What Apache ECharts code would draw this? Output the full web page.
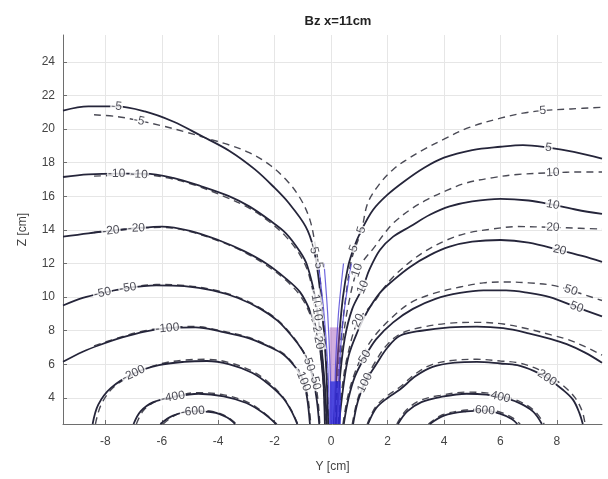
<!DOCTYPE html>
<html>
<head>
<meta charset="utf-8">
<script src="https://cdn.jsdelivr.net/npm/echarts@6/dist/echarts.min.js"></script>
<style>
  html, body { margin: 0; padding: 0; background: #fff; }
  #c { width: 608px; height: 479px; }
</style>
</head>
<body>
<div id="c"></div>
<script>
// Axis ticks
const xTicks = [-8, -6, -4, -2, 0, 2, 4, 6, 8];
const yTicks = [4, 6, 8, 10, 12, 14, 16, 18, 20, 22, 24];

// Contour lines of Bz, points are [Y, Z] in cm.
// s* = solid set, d* = dashed set; N = negative level.
const sN5 = [[-9.5,21.1],[-8.6,21.35],[-7.6,21.35],[-6.6,21.05],[-5.6,20.45],[-4.6,19.6],[-3.6,18.7],[-2.7,17.6],[-2.0,16.5],[-1.5,15.6],[-0.9,14.2],[-0.62,12.9],[-0.45,11.2],[-0.3,8.8],[-0.18,6.0],[-0.1,2.45]];
const dN5 = [[-8.4,20.85],[-7.6,20.75],[-6.8,20.5],[-6.0,20.2],[-5.2,19.85],[-4.4,19.45],[-3.6,19.05],[-2.9,18.6],[-2.2,17.9],[-1.6,17.0],[-1.1,15.9],[-0.75,14.6],[-0.55,13.0],[-0.45,12.0],[-0.33,10.0],[-0.22,7.5],[-0.14,5.0],[-0.09,2.45]];
const sN10 = [[-9.5,17.15],[-8.6,17.3],[-7.6,17.35],[-6.6,17.35],[-5.6,17.1],[-4.6,16.6],[-3.6,16.0],[-2.9,15.4],[-2.2,14.6],[-1.6,13.8],[-1.1,12.7],[-0.85,11.9],[-0.55,9.9],[-0.42,8.3],[-0.3,6.3],[-0.2,4.2],[-0.16,2.45]];
const dN10 = [[-8.4,17.2],[-7.6,17.25],[-6.8,17.3],[-5.8,17.1],[-4.8,16.65],[-3.8,16.0],[-2.9,15.3],[-2.2,14.5],[-1.6,13.6],[-1.1,12.5],[-0.8,11.4],[-0.5,9.1],[-0.37,7.5],[-0.27,5.5],[-0.19,3.7],[-0.15,2.45]];
const sN20 = [[-9.5,13.6],[-8.6,13.8],[-7.8,13.95],[-6.9,14.1],[-6.0,14.2],[-5.0,13.95],[-4.0,13.4],[-3.1,12.75],[-2.3,12.0],[-1.6,11.1],[-1.1,10.3],[-0.75,9.2],[-0.5,8.0],[-0.36,6.5],[-0.27,4.8],[-0.22,2.45]];
const dN20 = [[-8.4,13.85],[-7.6,14.0],[-6.9,14.1],[-6.0,14.15],[-5.0,13.9],[-4.0,13.35],[-3.1,12.7],[-2.3,11.9],[-1.6,11.0],[-1.1,10.1],[-0.75,9.0],[-0.45,7.4],[-0.32,5.8],[-0.25,4.2],[-0.2,2.45]];
const sN50 = [[-9.5,9.5],[-8.8,9.95],[-8.1,10.25],[-7.2,10.55],[-6.2,10.7],[-5.2,10.65],[-4.2,10.4],[-3.3,9.95],[-2.5,9.3],[-1.9,8.6],[-1.4,7.7],[-1.0,6.8],[-0.8,6.1],[-0.62,5.0],[-0.5,3.8],[-0.42,2.45]];
const dN50 = [[-8.4,10.15],[-7.8,10.35],[-7.2,10.55],[-6.2,10.75],[-5.2,10.7],[-4.2,10.45],[-3.3,10.0],[-2.5,9.35],[-1.9,8.65],[-1.4,7.75],[-1.0,6.8],[-0.75,5.8],[-0.57,5.0],[-0.46,3.8],[-0.4,2.45]];
const sN100 = [[-9.5,6.15],[-8.8,6.75],[-8.2,7.15],[-7.4,7.6],[-6.6,7.95],[-5.8,8.15],[-4.8,8.2],[-3.9,7.95],[-2.9,7.55],[-2.2,7.05],[-1.7,6.6],[-1.3,5.9],[-1.0,5.1],[-0.85,4.0],[-0.75,2.45]];
const dN100 = [[-8.4,7.1],[-7.4,7.65],[-6.6,8.0],[-5.8,8.2],[-4.8,8.25],[-3.9,8.0],[-2.9,7.6],[-2.2,7.1],[-1.7,6.65],[-1.3,5.95],[-1.0,5.1],[-0.82,4.0],[-0.72,2.45]];
const sN200 = [[-8.45,2.45],[-8.25,3.6],[-7.8,4.6],[-7.0,5.45],[-6.1,5.95],[-5.2,6.15],[-4.4,6.2],[-3.6,6.0],[-2.8,5.5],[-2.2,4.8],[-1.7,4.0],[-1.4,3.2],[-1.2,2.45]];
const dN200 = [[-8.35,2.45],[-8.15,3.6],[-7.7,4.65],[-6.9,5.5],[-6.0,6.05],[-5.2,6.25],[-4.4,6.3],[-3.6,6.1],[-2.8,5.6],[-2.2,4.9],[-1.7,4.05],[-1.4,3.25],[-1.18,2.45]];
const sN400 = [[-7.0,2.45],[-6.75,3.2],[-6.3,3.75],[-5.6,4.05],[-4.7,4.25],[-3.8,4.1],[-3.0,3.7],[-2.4,3.1],[-1.95,2.45]];
const dN400 = [[-6.9,2.45],[-6.65,3.25],[-6.2,3.8],[-5.5,4.12],[-4.7,4.32],[-3.8,4.18],[-3.0,3.78],[-2.4,3.15],[-1.92,2.45]];
const sN600 = [[-6.05,2.45],[-5.6,2.95],[-4.9,3.2],[-4.2,3.15],[-3.7,2.85],[-3.4,2.45]];
const dN600 = [[-5.95,2.45],[-5.5,3.0],[-4.9,3.27],[-4.2,3.2],[-3.7,2.9],[-3.35,2.45]];

const s5 = [[0.1,2.45],[0.18,5.0],[0.28,7.5],[0.42,10.0],[0.6,11.8],[0.8,12.9],[1.05,13.9],[1.49,15.2],[2.0,16.1],[2.6,16.9],[3.3,17.7],[4.0,18.3],[5.0,18.75],[6.0,18.95],[6.8,19.05],[7.7,18.9],[8.6,18.65],[9.6,18.25]];
const d5 = [[0.12,2.45],[0.22,5.0],[0.35,7.5],[0.52,10.0],[0.72,12.2],[1.08,14.0],[1.3,15.6],[1.7,16.7],[2.2,17.6],[2.7,18.2],[3.26,18.76],[4.0,19.4],[4.9,20.1],[6.0,20.65],[6.8,20.95],[7.5,21.1],[8.5,21.2],[9.6,21.3]];
const s10 = [[0.18,2.45],[0.3,5.0],[0.48,7.5],[0.75,9.3],[1.13,10.6],[1.35,11.6],[1.73,12.8],[2.2,13.6],[2.8,14.2],[3.5,14.9],[4.2,15.4],[5.0,15.7],[6.0,15.85],[7.0,15.75],[7.86,15.5],[8.7,15.2],[9.6,14.95]];
const d10 = [[0.15,2.45],[0.26,5.0],[0.42,7.5],[0.62,9.6],[0.92,11.6],[1.2,12.3],[1.5,12.9],[1.85,13.7],[2.2,14.4],[2.8,15.2],[3.4,15.8],[4.1,16.35],[4.8,16.8],[5.7,17.1],[6.6,17.3],[7.86,17.4],[8.8,17.45],[9.6,17.45]];
const s20 = [[0.28,2.45],[0.42,4.5],[0.62,6.5],[0.95,8.0],[1.27,9.1],[1.73,10.25],[2.2,11.0],[2.8,11.8],[3.5,12.5],[4.2,13.0],[5.0,13.3],[6.0,13.4],[7.0,13.25],[8.1,12.8],[8.9,12.45],[9.6,12.1]];
const d20 = [[0.25,2.45],[0.38,4.5],[0.58,6.5],[0.96,8.6],[1.5,9.65],[1.85,10.5],[2.2,11.2],[2.8,12.1],[3.4,12.8],[4.1,13.4],[4.8,13.8],[5.7,14.05],[6.6,14.2],[7.86,14.15],[8.8,14.1],[9.6,14.05]];
const s50 = [[0.45,2.45],[0.62,4.0],[0.85,5.3],[1.2,6.45],[1.6,7.5],[2.2,8.5],[2.9,9.3],[3.7,9.9],[4.57,10.25],[5.4,10.4],[6.2,10.4],[7.0,10.25],[7.75,10.0],[8.7,9.4],[9.6,8.85]];
const d50 = [[0.42,2.45],[0.58,4.0],[0.8,5.3],[1.1,6.5],[1.5,7.6],[2.1,8.7],[2.8,9.65],[3.6,10.2],[4.57,10.6],[5.4,10.85],[6.2,10.9],[7.0,10.85],[7.86,10.7],[8.5,10.4],[9.6,9.8]];
const s100 = [[0.78,2.45],[0.95,3.8],[1.2,4.9],[1.6,6.0],[2.0,7.0],[2.44,7.7],[3.2,8.0],[4.2,8.2],[5.17,8.25],[6.1,8.15],[7.0,7.85],[7.8,7.5],[8.35,7.2],[9.0,6.7],[9.6,6.1]];
const d100 = [[0.75,2.45],[0.92,3.8],[1.17,4.9],[1.55,6.1],[1.95,7.1],[2.44,7.8],[3.2,8.2],[4.2,8.45],[5.17,8.5],[6.1,8.4],[7.0,8.1],[7.8,7.75],[8.35,7.5],[9.0,7.05],[9.6,6.55]];
const s200 = [[1.31,2.45],[1.6,3.4],[2.0,4.0],[2.44,4.5],[3.0,5.3],[3.6,5.85],[4.4,6.1],[5.17,6.15],[6.0,6.05],[6.6,5.95],[7.2,5.6],[7.65,5.2],[8.2,4.5],[8.57,3.9],[8.8,3.1],[8.92,2.45]];
const d200 = [[1.28,2.45],[1.57,3.45],[1.97,4.1],[2.44,4.65],[3.0,5.45],[3.6,6.0],[4.4,6.25],[5.17,6.3],[6.0,6.2],[6.6,6.1],[7.2,5.8],[7.7,5.35],[8.25,4.7],[8.65,4.0],[8.9,3.2],[9.0,2.45]];
const s400 = [[2.37,2.45],[2.7,3.2],[3.2,3.75],[3.86,4.05],[4.8,4.25],[5.5,4.2],[6.0,4.05],[6.6,3.75],[7.15,3.2],[7.47,2.45]];
const d400 = [[2.33,2.45],[2.65,3.25],[3.15,3.85],[3.86,4.15],[4.8,4.35],[5.5,4.3],[6.0,4.15],[6.6,3.85],[7.2,3.25],[7.55,2.45]];
const s600 = [[3.5,2.45],[4.0,2.95],[4.8,3.2],[5.45,3.25],[6.0,3.05],[6.4,2.75],[6.6,2.45]];
const d600 = [[3.45,2.45],[3.95,3.0],[4.8,3.28],[5.45,3.32],[6.05,3.12],[6.45,2.8],[6.7,2.45]];

// Near-axis traces around Y = 0 (blue / purple)
const blueL1 = [[-0.05,2.45],[-0.12,6.0],[-0.25,9.0],[-0.45,12.0]];
const blueL2 = [[0.0,2.45],[-0.04,6.0],[-0.12,9.0],[-0.25,12.0]];
const blueR1 = [[0.22,2.45],[0.3,6.0],[0.45,9.0],[0.72,12.0]];
const blueR2 = [[0.12,2.45],[0.16,6.0],[0.26,9.0],[0.44,12.0]];
const blueCore = [[0.15,2.45],[0.15,5.0]];
const purpleCore = [[0.13,5.0],[0.13,8.2]];

// line, level, style, indices of inline labels
const contours = [
  [sN5, -5, 'solid', [2, 11]], [dN5, -5, 'dashed', [2, 13]],
  [sN10, -10, 'solid', [2, 12]], [dN10, -10, 'dashed', [2, 11]],
  [sN20, -20, 'solid', [2, 12]], [dN20, -20, 'dashed', [2, 11]],
  [sN50, -50, 'solid', [2, 12]], [dN50, -50, 'dashed', [2, 12]],
  [sN100, -100, 'solid', [5, 12]], [dN100, -100, 'dashed', []],
  [sN200, -200, 'solid', [3]], [dN200, -200, 'dashed', []],
  [sN400, -400, 'solid', [3]], [dN400, -400, 'dashed', []],
  [sN600, -600, 'solid', [2]], [dN600, -600, 'dashed', []],
  [s5, 5, 'solid', [5, 15]], [d5, 5, 'dashed', [5, 15]],
  [s10, 10, 'solid', [4, 14]], [d10, 10, 'dashed', [4, 15]],
  [s20, 20, 'solid', [13]], [d20, 20, 'dashed', [3, 13]],
  [s50, 50, 'solid', [3, 13]], [d50, 50, 'dashed', [13]],
  [s100, 100, 'solid', [2]], [d100, 100, 'dashed', []],
  [s200, 200, 'solid', [11]], [d200, 200, 'dashed', []],
  [s400, 400, 'solid', [6]], [d400, 400, 'dashed', []],
  [s600, 600, 'solid', [3]], [d600, 600, 'dashed', []]
];

const FONT = 'Liberation Sans, Arial, sans-serif';
const chart = echarts.init(document.getElementById('c'), null, { renderer: 'canvas' });

function lineSeries(pts, kind) {
  const solid = kind === 'solid';
  return {
    type: 'line', data: pts, smooth: 0.35, showSymbol: false, silent: true,
    z: solid ? 3 : 2,
    lineStyle: solid
      ? { color: '#25253a', width: 1.8, type: 'solid' }
      : { color: '#4a4a55', width: 1.4, type: [7, 5] }
  };
}
function traceSeries(pts, color, width, opacity) {
  return {
    type: 'line', data: pts, smooth: 0.3, showSymbol: false, silent: true, z: 4,
    lineStyle: { color: color, width: width, opacity: opacity }
  };
}

const series = contours.map(c => lineSeries(c[0], c[2]));
series.push(traceSeries(purpleCore, '#9b4bb8', 10, 0.45));
series.push(traceSeries(blueCore, '#2d27d8', 11, 0.85));
[blueL1, blueL2, blueR1, blueR2].forEach(p => series.push(traceSeries(p, '#4a3fd6', 1.2, 0.8)));

chart.setOption({
  animation: false,
  backgroundColor: '#ffffff',
  title: {
    text: 'Bz x=11cm', left: 333, top: 10, textAlign: 'center',
    textStyle: { fontSize: 13, fontWeight: 'bold', color: '#222', fontFamily: FONT }
  },
  grid: { left: 63, right: 6, top: 35, bottom: 55 },
  xAxis: {
    type: 'value', min: -9.5, max: 9.6,
    name: 'Y [cm]', nameLocation: 'middle', nameGap: 37,
    nameTextStyle: { fontSize: 12, color: '#444', fontFamily: FONT },
    axisLine: { show: true, onZero: false, lineStyle: { color: '#6e6e6e', width: 1 } },
    axisTick: { show: true, inside: true, length: 4, customValues: xTicks, lineStyle: { color: '#6e6e6e' } },
    axisLabel: { customValues: xTicks, color: '#444', fontSize: 12, fontFamily: FONT, margin: 12 },
    splitLine: { show: true, lineStyle: { color: '#e6e6e6', width: 1 } }
  },
  yAxis: {
    type: 'value', min: 2.45, max: 25.6,
    name: 'Z [cm]', nameLocation: 'middle', nameGap: 34,
    nameTextStyle: { fontSize: 12, color: '#444', fontFamily: FONT },
    axisLine: { show: true, onZero: false, lineStyle: { color: '#6e6e6e', width: 1 } },
    axisTick: { show: true, inside: true, length: 4, customValues: yTicks, lineStyle: { color: '#6e6e6e' } },
    axisLabel: { customValues: yTicks, color: '#444', fontSize: 12, fontFamily: FONT, margin: 8 },
    splitLine: { show: true, lineStyle: { color: '#e6e6e6', width: 1 } }
  },
  series: series
});

// Inline contour labels, rotated along the local direction of each line
function angleAt(pts, i) {
  const a = pts[Math.max(i - 1, 0)];
  const b = pts[Math.min(i + 1, pts.length - 1)];
  const pa = chart.convertToPixel({ gridIndex: 0 }, a);
  const pb = chart.convertToPixel({ gridIndex: 0 }, b);
  let deg = -Math.atan2(pb[1] - pa[1], pb[0] - pa[0]) * 180 / Math.PI;
  if (deg > 90) deg -= 180;
  if (deg < -90) deg += 180;
  return deg;
}
const labelData = [];
contours.forEach(c => {
  c[3].forEach(i => {
    labelData.push({
      value: c[0][i],
      label: { formatter: String(c[1]), rotate: angleAt(c[0], i) }
    });
  });
});
series.push({
  type: 'scatter', data: labelData, symbolSize: 2, silent: true, z: 10,
  itemStyle: { color: 'rgba(255,255,255,0)' },
  label: {
    show: true, position: 'inside', fontSize: 12, color: '#1e1e2a', fontFamily: FONT,
    backgroundColor: '#ffffff', padding: [0, 1]
  }
});
chart.setOption({ series: series });
</script>
</body>
</html>
